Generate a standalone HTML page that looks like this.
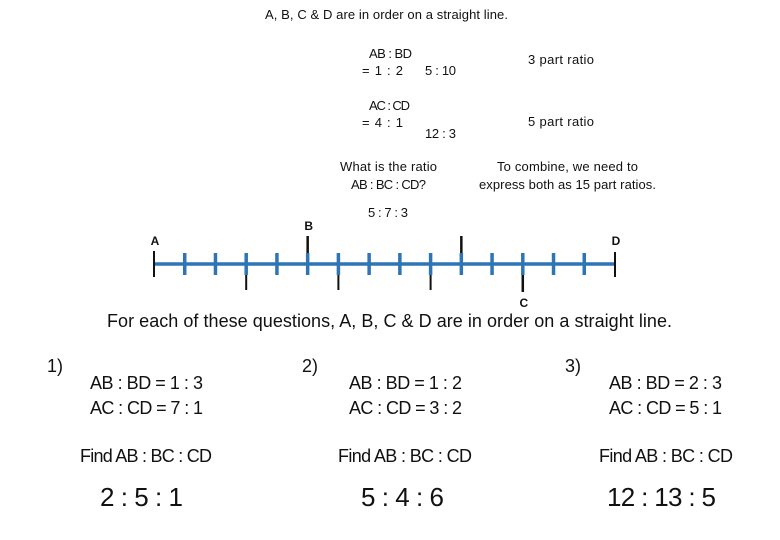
<!DOCTYPE html>
<html><head><meta charset="utf-8"><style>
body{margin:0;background:#fff}
svg{display:block}
text{font-family:"Liberation Sans Narrow","Liberation Sans",sans-serif;fill:#111}
.s{font-size:13px}
.m{font-size:18px}
.b{font-size:26px}
.l{font-size:12px;font-weight:bold;font-family:"Liberation Sans",sans-serif}
</style></head><body>
<svg id="c" width="780" height="540">
<text class="s" x="265" y="19" textLength="243">A, B, C &amp; D are in order on a straight line.</text>
<text class="s" x="369" y="58" textLength="43">AB : BD</text>
<text class="s" x="362" y="75" textLength="41">=  1 : 2</text>
<text class="s" x="425" y="75" textLength="31">5 : 10</text>
<text class="s" x="528" y="64" textLength="66">3 part ratio</text>
<text class="s" x="369" y="110" textLength="41">AC : CD</text>
<text class="s" x="362" y="127" textLength="41">=  4 : 1</text>
<text class="s" x="425" y="138" textLength="31">12 : 3</text>
<text class="s" x="528" y="126" textLength="66">5 part ratio</text>
<text class="s" x="340" y="171" textLength="97">What is the ratio</text>
<text class="s" x="351" y="189" textLength="75">AB : BC : CD?</text>
<text class="s" x="497" y="171" textLength="141">To combine, we need to</text>
<text class="s" x="479" y="189" textLength="177">express both as 15 part ratios.</text>
<text class="s" x="368" y="217" textLength="40">5 : 7 : 3</text>
<g id="nl"></g>
<text class="m" x="107" y="327" textLength="565">For each of these questions, A, B, C &amp; D are in order on a straight line.</text>
<g>
<text class="m" x="47" y="372">1)</text>
<text class="m" x="90" y="389" textLength="113">AB : BD = 1 : 3</text>
<text class="m" x="90" y="414" textLength="113">AC : CD = 7 : 1</text>
<text class="m" x="80" y="462" textLength="132">Find AB : BC : CD</text>
<text class="b" x="100" y="506" textLength="83">2 : 5 : 1</text>
</g>
<g>
<text class="m" x="302" y="372">2)</text>
<text class="m" x="349" y="389" textLength="113">AB : BD = 1 : 2</text>
<text class="m" x="349" y="414" textLength="113">AC : CD = 3 : 2</text>
<text class="m" x="338" y="462" textLength="134">Find AB : BC : CD</text>
<text class="b" x="361" y="506" textLength="83">5 : 4 : 6</text>
</g>
<g>
<text class="m" x="565" y="372">3)</text>
<text class="m" x="609" y="389" textLength="113">AB : BD = 2 : 3</text>
<text class="m" x="609" y="414" textLength="113">AC : CD = 5 : 1</text>
<text class="m" x="599" y="462" textLength="134">Find AB : BC : CD</text>
<text class="b" x="607" y="506" textLength="109">12 : 13 : 5</text>
</g>
</svg>
<script>
const segments = 15;
const aboveMarks = [5, 10];
const belowMarks = [3, 6, 9, 12];
const pointNames = ["A", "B", "C", "D"];
const pointPos = [0, 5, 12, 15];
const pointSide = ["end", "above", "below", "end"];

const NS = "http://www.w3.org/2000/svg";
const g = document.getElementById("nl");
const x0 = 154, x1 = 615, y = 264;
const X = i => x0 + (x1 - x0) * i / segments;
function line(a, b, c, d, col, w, name) {
  const l = document.createElementNS(NS, "line");
  l.setAttribute("x1", a); l.setAttribute("y1", b); l.setAttribute("x2", c); l.setAttribute("y2", d);
  l.setAttribute("stroke", col); l.setAttribute("stroke-width", w);
  
  
  g.appendChild(l);
}
line(x0, y, x1, y, "#2f75b5", 3.5, "number-line-axis");
for (let i = 1; i < segments; i++) line(X(i), y - 11, X(i), y + 11, "#2f75b5", 3.5, "blue-tick");
line(X(0), y - 13, X(0), y + 13, "#111", 2, "end-tick-a");
line(X(segments), y - 12, X(segments), y + 13, "#111", 2, "end-tick-d");
aboveMarks.forEach(i => line(X(i), y - 28, X(i), y - 11, "#111", 2.5, "above-mark"));
belowMarks.forEach(i => line(X(i), y + 11, X(i), y + 26, "#111", 2, "below-mark"));
line(X(12), y + 11, X(12), y + 28, "#111", 2.5, "below-mark-c");
pointNames.forEach((n, k) => {
  const t = document.createElementNS(NS, "text");
  t.setAttribute("class", "l");
  t.setAttribute("text-anchor", "middle");
  t.setAttribute("x", X(pointPos[k]) + 1);
  const s = pointSide[k];
  t.setAttribute("y", s === "end" ? 245 : s === "above" ? 230 : 307);
  t.textContent = n;
  
  
  g.appendChild(t);
});
</script>
</body></html>
